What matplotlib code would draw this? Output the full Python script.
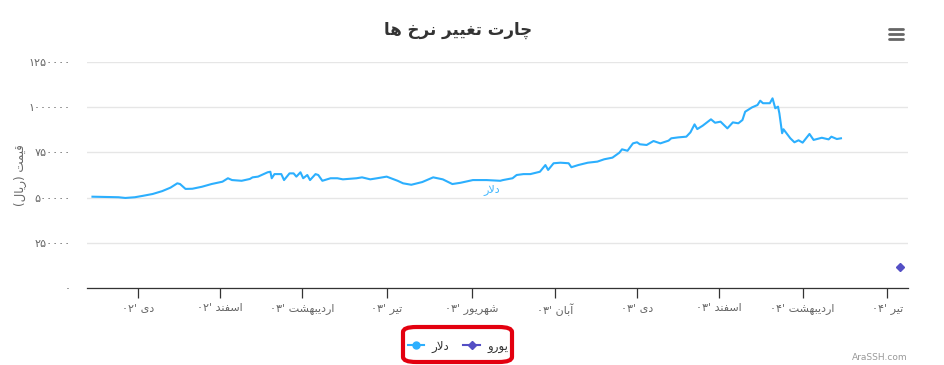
import numpy as np
import matplotlib.pyplot as plt
from matplotlib.lines import Line2D
from matplotlib.patches import FancyBboxPatch

plt.rcParams['font.family'] = ['DejaVu Sans']

# ---- data ----
dollar_dates = [
    '2023-11-19', '2023-12-08', '2023-12-13', '2023-12-20', '2023-12-26', '2024-01-02', '2024-01-09',
    '2024-01-15', '2024-01-20', '2024-01-22', '2024-01-26', '2024-01-31', '2024-02-07', '2024-02-14',
    '2024-02-22', '2024-02-26', '2024-02-29', '2024-03-07', '2024-03-13', '2024-03-15', '2024-03-19',
    '2024-03-26', '2024-03-28', '2024-03-29', '2024-03-31', '2024-04-05', '2024-04-07', '2024-04-11',
    '2024-04-14', '2024-04-16', '2024-04-19', '2024-04-21', '2024-04-24', '2024-04-26', '2024-04-30',
    '2024-05-02', '2024-05-05', '2024-05-11', '2024-05-16', '2024-05-20', '2024-05-30', '2024-06-03',
    '2024-06-09', '2024-06-14', '2024-06-21', '2024-06-29', '2024-07-03', '2024-07-09', '2024-07-17',
    '2024-07-25', '2024-08-01', '2024-08-08', '2024-08-14', '2024-08-23', '2024-09-02', '2024-09-12',
    '2024-09-14', '2024-09-21', '2024-09-24', '2024-09-29', '2024-10-04', '2024-10-11', '2024-10-15',
    '2024-10-17', '2024-10-21', '2024-10-26', '2024-11-01', '2024-11-03', '2024-11-08', '2024-11-15',
    '2024-11-22', '2024-11-27', '2024-12-03', '2024-12-08', '2024-12-10', '2024-12-14', '2024-12-18',
    '2024-12-21', '2024-12-23', '2024-12-28', '2025-01-02', '2025-01-07', '2025-01-13', '2025-01-15',
    '2025-01-20', '2025-01-26', '2025-01-29', '2025-02-01', '2025-02-03', '2025-02-07', '2025-02-13',
    '2025-02-16', '2025-02-20', '2025-02-25', '2025-03-01', '2025-03-05', '2025-03-08', '2025-03-10',
    '2025-03-15', '2025-03-19', '2025-03-21', '2025-03-23', '2025-03-28', '2025-03-30', '2025-04-01',
    '2025-04-03', '2025-04-04', '2025-04-06', '2025-04-07', '2025-04-12', '2025-04-15', '2025-04-18',
    '2025-04-21', '2025-04-26', '2025-04-29', '2025-05-05', '2025-05-10', '2025-05-12', '2025-05-16',
    '2025-05-19',
]
dollar_values = [
    505000, 502000, 498000, 502000, 510000, 520000, 536000,
    555000, 579000, 575000, 548000, 549000, 560000, 575000,
    588000, 607000, 597000, 593000, 603000, 612000, 616000,
    640000, 643000, 607000, 630000, 630000, 597000, 634000,
    634000, 616000, 640000, 607000, 625000, 597000, 630000,
    625000, 593000, 607000, 607000, 601000, 607000, 612000,
    601000, 607000, 616000, 593000, 579000, 571000, 586000,
    612000, 601000, 575000, 582000, 597000, 597000, 593000,
    597000, 607000, 625000, 630000, 630000, 643000, 680000,
    653000, 690000, 693000, 690000, 668000, 680000, 693000,
    699000, 712000, 721000, 748000, 767000, 759000, 800000,
    806000, 795000, 791000, 813000, 800000, 815000, 828000,
    833000, 837000, 861000, 905000, 879000, 898000, 933000,
    914000, 920000, 883000, 916000, 911000, 929000, 975000,
    999000, 1012000, 1036000, 1022000, 1022000, 1049000, 994000,
    1003000, 966000, 856000, 878000, 828000, 806000, 817000,
    804000, 852000, 819000, 831000, 822000, 837000, 824000,
    828000,
]
euro_dates = ['2025-07-01']
euro_values = [118000]

tick_dates = ['2023-12-22', '2024-02-20', '2024-04-20', '2024-06-21', '2024-08-22',
              '2024-10-22', '2024-12-21', '2025-02-19', '2025-04-21', '2025-06-22']
tick_labels = ["دی '۰۲", "اسفند '۰۲", "اردیبهشت '۰۳", "تیر '۰۳", "شهریور '۰۳",
               "آبان '۰۳", "دی '۰۳", "اسفند '۰۳", "اردیبهشت '۰۴", "تیر '۰۴"]
y_ticks = [0, 250000, 500000, 750000, 1000000, 1250000]

title_text = 'چارت تغییر نرخ ها'
y_title = 'قیمت (ریال)'
series_names = ['دلار', 'یورو']

# ---- minimal Persian shaping + visual ordering ----
FORMS = {  # isolated, final, initial, medial
    'ا': (0xFE8D, 0xFE8E), 'آ': (0xFE81, 0xFE82), 'د': (0xFEA9, 0xFEAA),
    'ر': (0xFEAD, 0xFEAE), 'و': (0xFEED, 0xFEEE),
    'ب': (0xFE8F, 0xFE90, 0xFE91, 0xFE92), 'ت': (0xFE95, 0xFE96, 0xFE97, 0xFE98),
    'خ': (0xFEA5, 0xFEA6, 0xFEA7, 0xFEA8), 'س': (0xFEB1, 0xFEB2, 0xFEB3, 0xFEB4),
    'ش': (0xFEB5, 0xFEB6, 0xFEB7, 0xFEB8), 'غ': (0xFECD, 0xFECE, 0xFECF, 0xFED0),
    'ف': (0xFED1, 0xFED2, 0xFED3, 0xFED4), 'ق': (0xFED5, 0xFED6, 0xFED7, 0xFED8),
    'ل': (0xFEDD, 0xFEDE, 0xFEDF, 0xFEE0), 'م': (0xFEE1, 0xFEE2, 0xFEE3, 0xFEE4),
    'ن': (0xFEE5, 0xFEE6, 0xFEE7, 0xFEE8), 'ه': (0xFEE9, 0xFEEA, 0xFEEB, 0xFEEC),
    'ی': (0xFBFC, 0xFBFD, 0xFBFE, 0xFBFF), 'چ': (0xFB7A, 0xFB7B, 0xFB7C, 0xFB7D),
}
LAM_ALEF = {'ا': (0xFEFB, 0xFEFC), 'آ': (0xFEF5, 0xFEF6)}
DIGITS = '0123456789۰۱۲۳۴۵۶۷۸۹'


def fa(text):
    res = []
    i = 0
    while i < len(text):
        c = text[i]
        if c not in FORMS:
            res.append(c)
            i += 1
            continue
        prev = text[i - 1] if i > 0 else ''
        nxt = text[i + 1] if i + 1 < len(text) else ''
        jp = prev in FORMS and len(FORMS[prev]) == 4
        if c == 'ل' and nxt in LAM_ALEF:
            res.append(chr(LAM_ALEF[nxt][1 if jp else 0]))
            i += 2
            continue
        jn = len(FORMS[c]) == 4 and nxt in FORMS
        f = FORMS[c]
        if jp and jn:
            res.append(chr(f[3]))
        elif jp:
            res.append(chr(f[1]))
        elif jn:
            res.append(chr(f[2]))
        else:
            res.append(chr(f[0]))
        i += 1
    s = ''.join(res)
    runs = []
    for ch in s:
        d = ch in DIGITS
        if runs and runs[-1][0] == d:
            runs[-1][1] += ch
        else:
            runs.append([d, ch])
    out = ''
    for d, r in reversed(runs):
        out += r if d else r[::-1]
    return out.translate(str.maketrans('()', ')('))


def fa_num(v):
    return str(v).translate(str.maketrans('0123456789', '۰۱۲۳۴۵۶۷۸۹'))


# ---- plot ----
W, H = 944, 365
fig = plt.figure(figsize=(W / 100, H / 100), dpi=100)
ax = fig.add_axes([87 / W, (H - 288) / H, (908 - 87) / W, (288 - 62) / H])

d_dates = np.array(dollar_dates, dtype='datetime64[D]')
e_dates = np.array(euro_dates, dtype='datetime64[D]')
ax.plot(d_dates, dollar_values, color='#2caffe', lw=1.5, zorder=3)
ax.plot(e_dates, euro_values, color='#544fc5', marker='D', ms=4.5, lw=0, zorder=3)

ax.set_xlim(np.datetime64('2023-11-15'), np.datetime64('2025-07-07'))
ax.set_ylim(0, 1250000)
ax.set_yticks(y_ticks)
ax.set_yticklabels([fa_num(v) for v in y_ticks])
ax.set_xticks(np.array(tick_dates, dtype='datetime64[D]'))
ax.set_xticklabels([fa(t) for t in tick_labels])

ax.grid(axis='y', color='#e6e6e6', lw=1)
ax.set_axisbelow(True)
for s in ['top', 'right', 'left']:
    ax.spines[s].set_visible(False)
ax.spines['bottom'].set_color('#333333')
ax.spines['bottom'].set_linewidth(0.9)
ax.tick_params(axis='y', length=0, pad=12, labelsize=8, labelcolor='#666666')
ax.tick_params(axis='x', length=7, width=0.9, color='#333333', pad=4, labelsize=8, labelcolor='#666666')

# series label on the line
ax.text(np.datetime64('2024-09-06'), 542000, fa(series_names[0]), color='#2caffe',
        fontsize=8, ha='center', va='center', alpha=0.9)

fig.text(458 / W, 1 - 30 / H, fa(title_text), ha='center', va='center', fontsize=12,
         fontweight='bold', color='#333333')
fig.text(20 / W, 1 - 175 / H, fa(y_title), rotation=90, ha='center', va='center',
         fontsize=8.5, color='#666666')

# menu icon
for yy in [29, 34, 39]:
    fig.add_artist(Line2D([889 / W, 903 / W], [1 - yy / H, 1 - yy / H], color='#666666',
                          lw=2, solid_capstyle='round'))

# legend
handles = [Line2D([], [], color='#2caffe', marker='o', ms=5, lw=1.5),
           Line2D([], [], color='#544fc5', marker='D', ms=4.5, lw=1.5)]
fig.legend(handles, [fa(n) for n in series_names], loc='center', bbox_to_anchor=(458 / W, 1 - 346 / H),
           ncol=2, frameon=False, fontsize=8.5, handlelength=1.4, columnspacing=1.2,
           handletextpad=0.6, labelcolor='#333333')

# red highlight box around legend
fig.add_artist(FancyBboxPatch((403 / W, 1 - 362 / H), 109 / W, 35 / H,
                              boxstyle='round,pad=0,rounding_size=0.014',
                              transform=fig.transFigure, fill=False, ec='#e3000f', lw=3))

fig.text(908 / W, 1 - 358 / H, 'AraSSH.com', ha='right', va='center', fontsize=6.5, color='#999999')

fig.savefig('out.png', dpi=100)
